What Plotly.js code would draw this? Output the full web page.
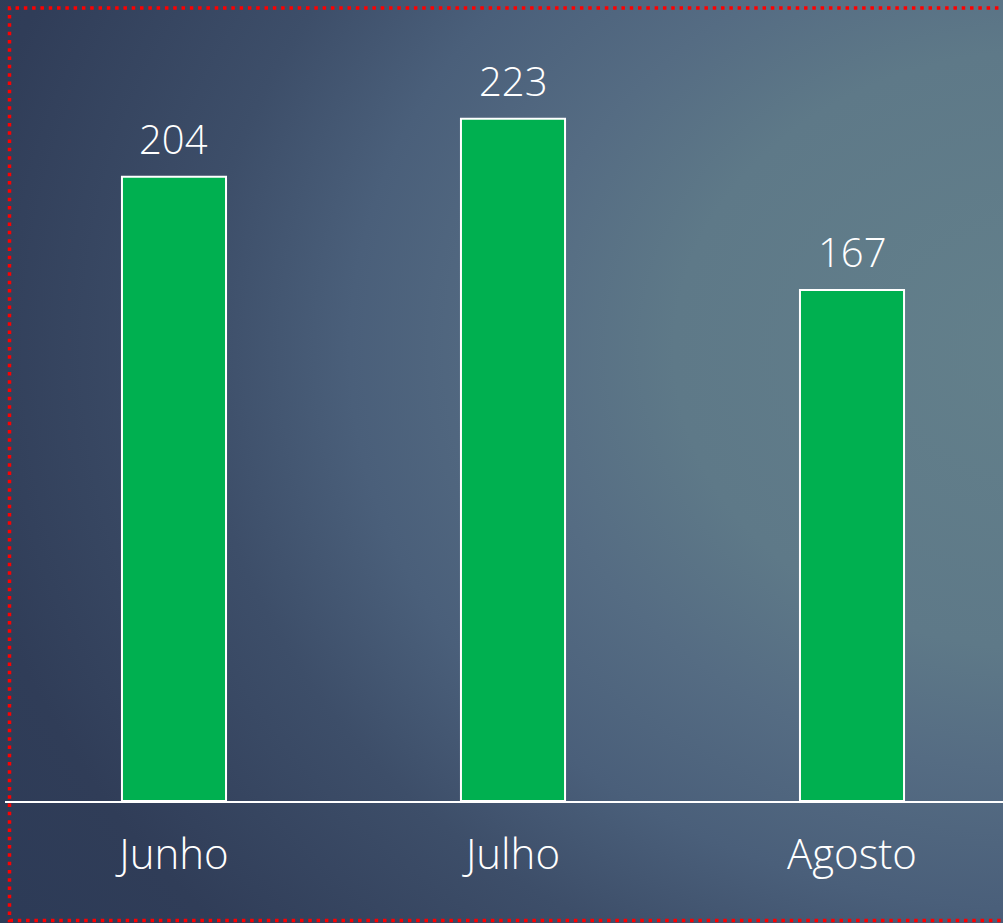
<!DOCTYPE html>
<html>
<head>
<meta charset="utf-8">
<script src="https://cdn.plot.ly/plotly-3.0.1.min.js"></script>
<style>
  html, body { margin: 0; padding: 0; }
  body {
    width: 1003px; height: 923px; overflow: hidden;
    background: radial-gradient(ellipse 1250px 1000px at 1050px 350px,
      #63808b 0%, #5e7988 30%, #556c83 42%, #4a5f7a 56%, #3d4e69 68%, #303d58 88%, #2d3b57 100%);
  }
  #chart { width: 1003px; height: 923px; }
</style>
</head>
<body>
<div id="chart"></div>
<script>
const categories = ['Junho', 'Julho', 'Agosto'];
const values = [204, 223, 167];

const fontFamily = '"Open Sans", Lato, sans-serif';

const trace = {
  type: 'bar',
  x: categories,
  y: values,
  marker: { color: '#00b050', line: { color: '#ffffff', width: 2 } },
  hoverinfo: 'skip'
};

const annotations = categories.map((c, i) => ({
  x: c, y: values[i], xref: 'x', yref: 'y',
  text: String(values[i]),
  showarrow: false,
  yanchor: 'bottom',
  yshift: 9,
  font: { family: fontFamily, size: 40, weight: 300, color: '#ffffff' }
}));

const layout = {
  width: 1003, height: 923,
  margin: { l: 5, r: 0, t: 0, b: 122, pad: 0 },
  paper_bgcolor: 'rgba(0,0,0,0)',
  plot_bgcolor: 'rgba(0,0,0,0)',
  showlegend: false,
  bargap: 0.693,
  xaxis: {
    type: 'category',
    range: [-0.4985, 2.4454],
    showline: true, linecolor: '#ffffff', linewidth: 2,
    showgrid: false, zeroline: false,
    ticks: 'outside', ticklen: 16, tickcolor: 'rgba(0,0,0,0)',
    tickfont: { family: fontFamily, size: 42, weight: 300, color: '#ffffff' },
    fixedrange: true
  },
  yaxis: {
    range: [0, 261.8],
    visible: false, showgrid: false, zeroline: false,
    fixedrange: true
  },
  annotations: annotations,
  shapes: [{
    type: 'rect', xref: 'paper', yref: 'paper',
    x0: 0.0045, x1: 1.02, y0: -0.1492, y1: 0.9900,
    line: { color: '#ff0000', width: 3.5, dash: '3.5px,4.8px' },
    fillcolor: 'rgba(0,0,0,0)', layer: 'above'
  }]
};

Plotly.newPlot('chart', [trace], layout, { displayModeBar: false, staticPlot: true });
</script>
</body>
</html>
